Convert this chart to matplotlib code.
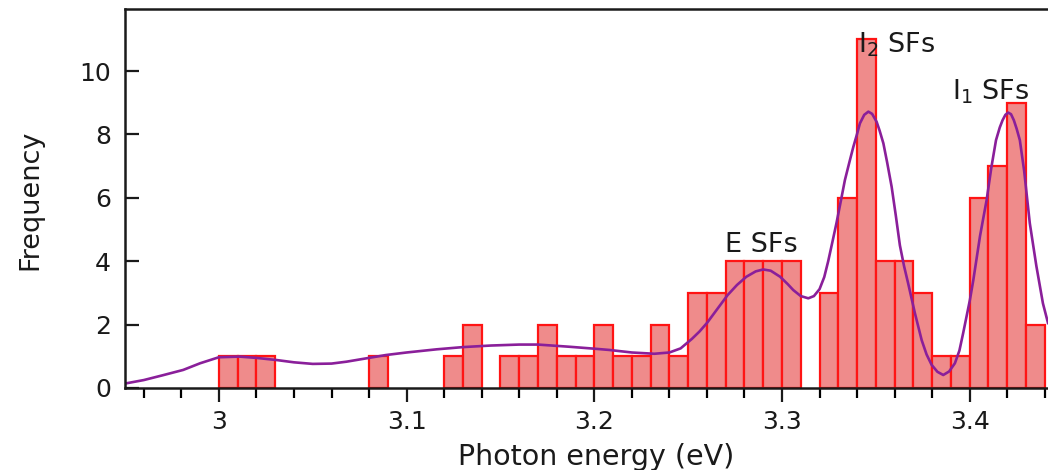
import matplotlib
matplotlib.use('Agg')
import matplotlib.pyplot as plt
from matplotlib.ticker import MultipleLocator, FuncFormatter
import numpy as np

# histogram: left edge of each 0.01 eV bin and its count
bin_left = [3.00, 3.01, 3.02, 3.03, 3.04, 3.05, 3.06, 3.07, 3.08, 3.09,
            3.10, 3.11, 3.12, 3.13, 3.14, 3.15, 3.16, 3.17, 3.18, 3.19,
            3.20, 3.21, 3.22, 3.23, 3.24, 3.25, 3.26, 3.27, 3.28, 3.29,
            3.30, 3.31, 3.32, 3.33, 3.34, 3.35, 3.36, 3.37, 3.38, 3.39,
            3.40, 3.41, 3.42, 3.43]
counts = [1, 1, 1, 0, 0, 0, 0, 0, 1, 0,
          0, 0, 1, 2, 0, 1, 1, 2, 1, 1,
          2, 1, 1, 2, 1, 3, 3, 4, 4, 4,
          4, 0, 3, 6, 11, 4, 4, 3, 1, 1,
          6, 7, 9, 2]
bin_width = 0.01

# fitted envelope
fit_e = [2.950, 2.960, 2.970, 2.981, 2.990, 3.000, 3.011, 3.020, 3.031, 3.040,
         3.050, 3.060, 3.068, 3.080, 3.089, 3.100, 3.116, 3.130, 3.145, 3.160,
         3.170, 3.187, 3.200, 3.208, 3.220, 3.232, 3.240, 3.246, 3.252, 3.256,
         3.260, 3.265, 3.271, 3.276, 3.281, 3.286, 3.290, 3.294, 3.299, 3.303,
         3.306, 3.310, 3.314, 3.317, 3.320, 3.3225, 3.3246, 3.327, 3.329, 3.3315,
         3.3335, 3.336, 3.338, 3.340, 3.3415, 3.3438, 3.346, 3.348, 3.3504, 3.352,
         3.354, 3.356, 3.3584, 3.3606, 3.3628, 3.365, 3.3672, 3.3708, 3.3744, 3.377,
         3.3797, 3.3828, 3.3859, 3.389, 3.3921, 3.3945, 3.3965, 3.4001, 3.4019, 3.4055,
         3.409, 3.4115, 3.414, 3.416, 3.4175, 3.419, 3.4205, 3.422, 3.4235, 3.425,
         3.4267, 3.429, 3.432, 3.4355, 3.439, 3.4417]
fit_f = [0.14, 0.25, 0.40, 0.57, 0.78, 0.97, 0.99, 0.95, 0.88, 0.81,
         0.76, 0.77, 0.83, 0.95, 1.04, 1.12, 1.22, 1.29, 1.34, 1.37,
         1.37, 1.30, 1.24, 1.20, 1.12, 1.08, 1.12, 1.25, 1.55, 1.78,
         2.05, 2.45, 2.93, 3.25, 3.51, 3.68, 3.74, 3.70, 3.51, 3.28,
         3.09, 2.90, 2.83, 2.90, 3.12, 3.50, 4.00, 4.65, 5.20, 5.95,
         6.56, 7.15, 7.61, 8.02, 8.35, 8.62, 8.72, 8.65, 8.40, 8.12,
         7.72, 7.12, 6.35, 5.45, 4.50, 3.85, 3.30, 2.36, 1.51, 1.06,
         0.73, 0.51, 0.41, 0.52, 0.78, 1.18, 1.73, 2.78, 3.40, 4.80,
         5.93, 6.95, 7.82, 8.22, 8.45, 8.62, 8.69, 8.64, 8.45, 8.18,
         7.82, 6.85, 5.20, 3.85, 2.67, 2.05]

peak_labels = ['E SFs', 'I$_2$ SFs', 'I$_1$ SFs']
peak_label_x = [3.289, 3.3404, 3.3905]
peak_label_y = [4.3, 10.6, 9.1]
peak_label_ha = ['center', 'left', 'left']

fig = plt.figure(figsize=(10.48, 4.70), dpi=100)
ax = fig.add_axes([0.1193, 0.1745, 0.8807, 0.8064])

left = np.array(bin_left)
n = np.array(counts)
keep = n > 0
ax.bar(left[keep], n[keep], width=bin_width, align='edge',
       facecolor='#ef8b8b', edgecolor='#ff1414', linewidth=1.6, zorder=2)

ax.plot(fit_e, fit_f, color='#8a1f9a', linewidth=1.9, zorder=3,
        solid_joinstyle='round')

for txt, x, y, ha in zip(peak_labels, peak_label_x, peak_label_y, peak_label_ha):
    ax.text(x, y, txt, ha=ha, va='baseline', fontsize=19.5, color='#1a1a1a')

ax.set_xlim(2.95, 3.4417)
ax.set_ylim(0, 11.96)

ax.xaxis.set_major_locator(MultipleLocator(0.1))
ax.xaxis.set_minor_locator(MultipleLocator(0.02))
ax.xaxis.set_major_formatter(FuncFormatter(lambda v, p: '%g' % round(v, 2)))
ax.set_yticks([0, 2, 4, 6, 8, 10])

ax.tick_params(axis='x', which='major', direction='out', length=10, width=1.6,
               labelsize=18, pad=6, colors='#1a1a1a')
ax.tick_params(axis='x', which='minor', direction='out', length=7, width=1.6)
ax.tick_params(axis='y', which='major', direction='in', length=10, width=1.6,
               labelsize=18, pad=10, colors='#1a1a1a')

ax.spines['right'].set_visible(False)
for side in ['top', 'left', 'bottom']:
    ax.spines[side].set_linewidth(1.8)
    ax.spines[side].set_color('#1a1a1a')
    ax.spines[side].set_zorder(4)

ax.set_xlabel('Photon energy (eV)', fontsize=20.5, color='#1a1a1a')
ax.xaxis.set_label_coords(0.51, -0.145)
ax.set_ylabel('Frequency', fontsize=19.5, color='#1a1a1a')
ax.yaxis.set_label_coords(-0.088, 0.496)

fig.savefig('out.png', dpi=100)
